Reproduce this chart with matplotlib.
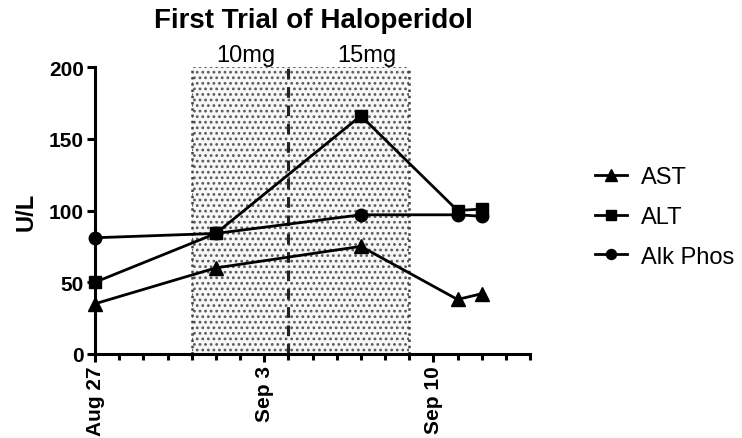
import matplotlib
matplotlib.use("Agg")
import matplotlib.pyplot as plt
import matplotlib.dates as mdates
import numpy as np
import datetime as dt

plt.rcParams['font.family'] = ['Liberation Sans', 'DejaVu Sans']
plt.rcParams['hatch.linewidth'] = 1.2

# ---- data ----
ast_dates = ["2018-08-27", "2018-09-01", "2018-09-07", "2018-09-11", "2018-09-12"]
ast_vals = [35, 60, 75, 38, 42]
alt_dates = ["2018-08-27", "2018-09-01", "2018-09-07", "2018-09-11", "2018-09-12"]
alt_vals = [50, 84, 166, 100, 101]
alk_dates = ["2018-08-27", "2018-09-01", "2018-09-07", "2018-09-11", "2018-09-12"]
alk_vals = [81, 84, 97, 97, 96]
series_names = ["AST", "ALT", "Alk Phos"]
dose_labels = ["10mg", "15mg"]
dose_label_dates = ["2018-09-02", "2018-09-07"]
dose_start = "2018-08-31"
dose_change = "2018-09-04"
dose_end = "2018-09-09"
xtick_dates = ["2018-08-27", "2018-09-03", "2018-09-10"]
xtick_labels = ["Aug 27", "Sep 3", "Sep 10"]
yticks = [0, 50, 100, 150, 200]

def D(s):
    return mdates.date2num(dt.datetime.strptime(s, "%Y-%m-%d"))

W, H = 742, 439
fig = plt.figure(figsize=(W / 100, H / 100), dpi=100)
L, R, T, B = 95, 530, 68, 355
ax = fig.add_axes([L / W, 1 - B / H, (R - L) / W, (B - T) / H])

x0 = D("2018-08-27")
x1 = D("2018-09-14")

# shaded dosing region
ax.axvspan(D(dose_start), D(dose_end), facecolor='#f7f7f7', edgecolor='#5a5a5a',
           hatch='...', linewidth=0, zorder=0)
for xx in (D(dose_start), D(dose_end)):
    ax.axvline(xx, color='#444444', linestyle=(0, (1, 1.5)), linewidth=1.8, zorder=1)
ax.axvline(D(dose_change), color='#222222', linestyle=(0, (3.5, 2.5)), linewidth=2.2, zorder=2)

markers = ['^', 's', 'o']
sizes = [10, 9, 9]
for dates, vals, name, m, ms in zip([ast_dates, alt_dates, alk_dates],
                                    [ast_vals, alt_vals, alk_vals], series_names,
                                    markers, sizes):
    ax.plot([D(d) for d in dates], vals, color='black', linewidth=2, marker=m,
            markersize=ms, label=name, zorder=5, clip_on=False)

ax.set_xlim(x0, x1)
ax.set_ylim(0, 200)
ax.set_yticks(yticks)
ax.set_yticklabels([str(v) for v in yticks], fontsize=15, fontweight='bold')
ax.set_xticks([D(d) for d in xtick_dates])
ax.set_xticklabels(xtick_labels, rotation=90, fontsize=15, fontweight='bold')
ax.set_xticks(np.arange(x0, x1 + 0.5, 1.0), minor=True)
ax.set_ylabel("U/L", fontsize=17, fontweight='bold', labelpad=8)

for s in ['top', 'right']:
    ax.spines[s].set_visible(False)
for s in ['left', 'bottom']:
    ax.spines[s].set_linewidth(2.2)
ax.tick_params(axis='both', which='major', length=6, width=2.2, direction='out', pad=2)
ax.tick_params(axis='x', which='minor', length=4.5, width=2.2, direction='out')

fig.text(313 / W, 1 - 21 / H, "First Trial of Haloperidol", fontsize=20,
         fontweight='bold', ha='center', va='center')
for lab, d in zip(dose_labels, dose_label_dates):
    ax.text(D(d) + 0.25, 204, lab, fontsize=17, ha='center', va='baseline')

leg = ax.legend(loc='center left', bbox_to_anchor=(595 / W, 1 - 218 / H),
                bbox_transform=fig.transFigure, frameon=False, borderpad=0,
                borderaxespad=0, fontsize=17, handlelength=1.35,
                handletextpad=0.6, labelspacing=0.75, markerscale=0.8)

fig.savefig("out.png", dpi=100)
